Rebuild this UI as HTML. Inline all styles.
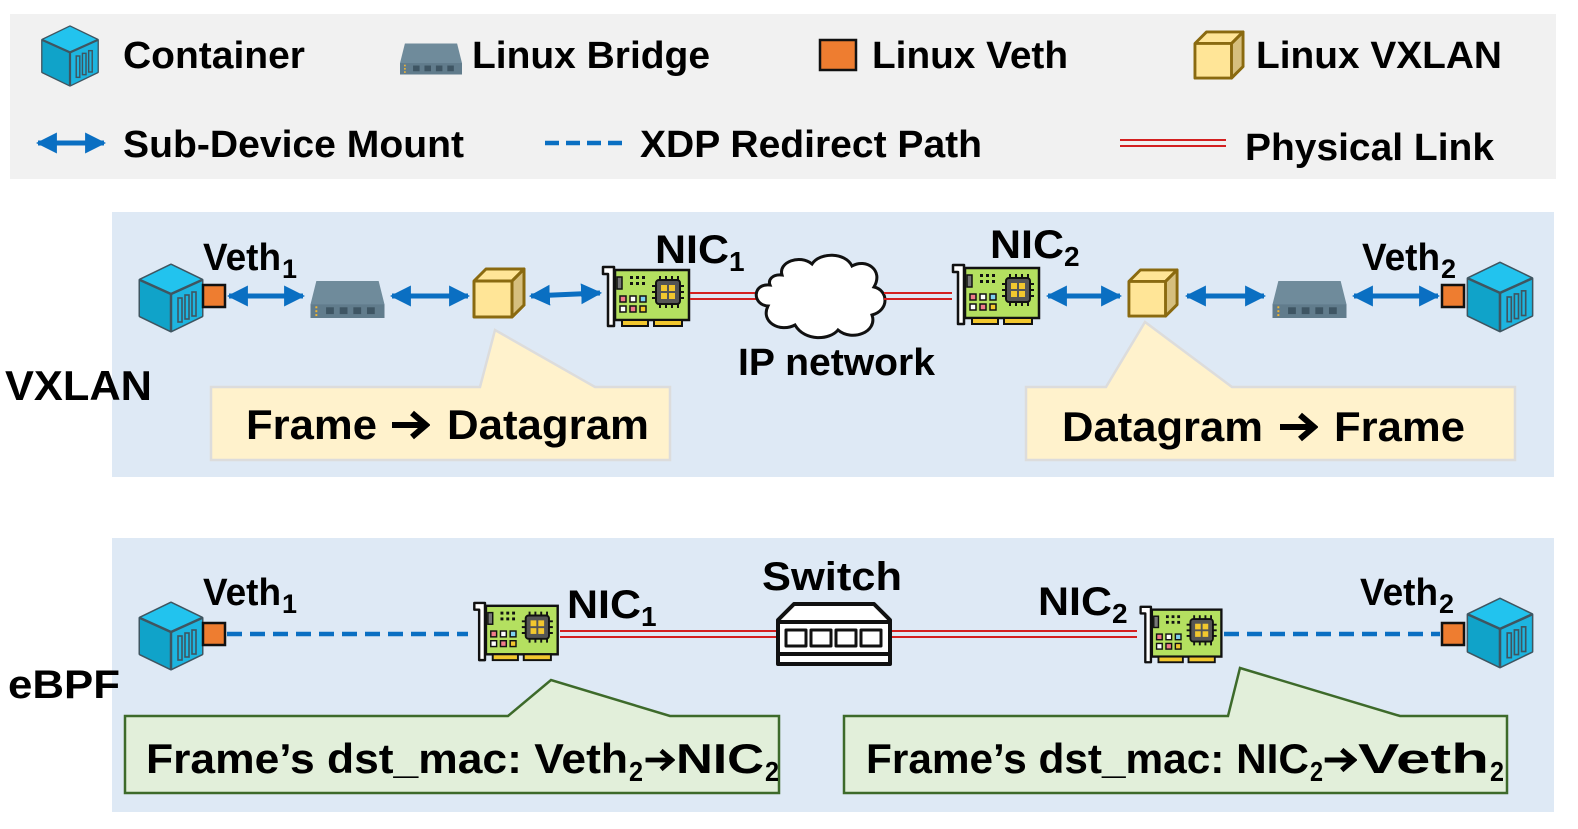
<!DOCTYPE html>
<html><head><meta charset="utf-8"><style>html,body{margin:0;padding:0;background:#fff}svg{display:block}</style></head><body>
<svg width="1578" height="829" viewBox="0 0 1578 829" xmlns="http://www.w3.org/2000/svg" font-family="'Liberation Sans', Arial, sans-serif" font-weight="bold">
<defs>
<symbol id="ctr" viewBox="0 0 70 72">
<polygon points="35,3 66,18 66,54 35,69 4,54 4,18" fill="#17a9d1" stroke="#3f5560" stroke-width="3" stroke-linejoin="round"/>
<polygon points="35,3 66,18 35,32 4,18" fill="#22c3ee"/>
<polygon points="35,32 66,18 66,54 35,69" fill="#1db5e0"/>
<polygon points="4,18 35,32 35,69 4,54" fill="#10a3c9"/>
<polyline points="4,18 35,32 66,18" fill="none" stroke="#3f5560" stroke-width="2.5"/>
<line x1="35" y1="32" x2="35" y2="69" stroke="#3f5560" stroke-width="2.5"/>
<g stroke="#3f5560" stroke-width="1.6" fill="none"><rect x="42" y="36" width="4" height="24"/><rect x="49" y="33" width="4" height="24"/><rect x="56" y="30" width="4" height="24"/></g>
</symbol>
<symbol id="brg" viewBox="0 0 76 38">
<polygon points="6,0 70,0 76,24 76,38 0,38 0,24" fill="#6f8b9b"/>
<rect x="0" y="24" width="76" height="14" fill="#617c8c"/>
<g fill="#3e5563"><rect x="16" y="27" width="8" height="7"/><rect x="30" y="27" width="8" height="7"/><rect x="44" y="27" width="8" height="7"/><rect x="58" y="27" width="8" height="7"/></g>
<g fill="#f2b632"><rect x="5" y="26" width="2" height="2"/><rect x="5" y="30" width="2" height="2"/><rect x="5" y="34" width="2" height="2"/></g>
</symbol>
<symbol id="cube" viewBox="0 0 54 52">
<polygon points="2,14 14,2 52,2 52,38 40,50 2,50" fill="#ffe597" stroke="#8a6a10" stroke-width="3" stroke-linejoin="round"/>
<polygon points="40,14 52,2 52,38 40,50" fill="#d6bf7e" stroke="#8a6a10" stroke-width="3" stroke-linejoin="round"/>
<polyline points="2,14 40,14 52,2" fill="none" stroke="#8a6a10" stroke-width="3"/>
</symbol>
<symbol id="nic" viewBox="0 0 92 66">
<path d="M3,3 H14 V62 H8 V10 H3 Z" fill="#fff" stroke="#111" stroke-width="2.5" stroke-linejoin="round"/>
<rect x="15" y="6" width="74" height="50" fill="#b4e060" stroke="#111" stroke-width="2.5"/>
<rect x="22" y="56" width="26" height="6" fill="#f2c72e" stroke="#111" stroke-width="2"/>
<rect x="54" y="56" width="28" height="6" fill="#f2c72e" stroke="#111" stroke-width="2"/>
<rect x="17" y="13" width="5" height="12" fill="#777" stroke="#111" stroke-width="1.5"/>
<rect x="56" y="16" width="24" height="24" rx="3" fill="#555" stroke="#111" stroke-width="2"/>
<g fill="#f2c72e"><rect x="61" y="21" width="6" height="6"/><rect x="69" y="21" width="6" height="6"/><rect x="61" y="29" width="6" height="6"/><rect x="69" y="29" width="6" height="6"/></g>
<g stroke="#111" stroke-width="2"><path d="M60,16v-4M66,16v-4M72,16v-4M78,16v-4M60,40v4M66,40v4M72,40v4M78,40v4M56,22h-4M56,28h-4M56,34h-4M80,22h4M80,28h4M80,34h4"/></g>
<g fill="#111"><rect x="30" y="12" width="3" height="3"/><rect x="36" y="12" width="3" height="3"/><rect x="42" y="12" width="3" height="3"/><rect x="30" y="18" width="3" height="3"/><rect x="36" y="18" width="3" height="3"/><rect x="42" y="18" width="3" height="3"/></g>
<g stroke="#111" stroke-width="1.5"><rect x="20" y="32" width="6" height="6" fill="#f07c8a"/><rect x="30" y="32" width="6" height="6" fill="#fff"/><rect x="40" y="32" width="6" height="6" fill="#7fd1f0"/><rect x="20" y="42" width="6" height="6" fill="#fff"/><rect x="30" y="42" width="6" height="6" fill="#f07c8a"/><rect x="40" y="42" width="6" height="6" fill="#f2c72e"/></g>
</symbol>
<symbol id="arr" viewBox="0 0 40 30"><path d="M2,15 H34 M22,3 L36,15 L22,27" fill="none" stroke="#000" stroke-width="6" stroke-linejoin="miter"/></symbol>
<marker id="ah" viewBox="0 0 10 10" refX="9" refY="5" markerWidth="4.2" markerHeight="4.2" orient="auto-start-reverse"><path d="M0,0 L10,5 L0,10 Z" fill="#0a6fc2"/></marker>
</defs>

<!-- legend -->
<rect x="10" y="14" width="1546" height="165" fill="#f1f1f1"/>
<use href="#ctr" x="38" y="24" width="64" height="64"/>
<text x="123" y="68" font-size="38" textLength="182" lengthAdjust="spacingAndGlyphs">Container</text>
<use href="#brg" x="400" y="40" width="62" height="38"/>
<text x="472" y="68" font-size="38" textLength="238" lengthAdjust="spacingAndGlyphs">Linux Bridge</text>
<rect x="820" y="40" width="36" height="30" fill="#ee7d30" stroke="#111" stroke-width="2.5"/>
<text x="872" y="68" font-size="38" textLength="196" lengthAdjust="spacingAndGlyphs">Linux Veth</text>
<use href="#cube" x="1193" y="30" width="52" height="50"/>
<text x="1256" y="68" font-size="38" textLength="246" lengthAdjust="spacingAndGlyphs">Linux VXLAN</text>
<line x1="38" y1="143" x2="104" y2="143" stroke="#0a6fc2" stroke-width="5" marker-start="url(#ah)" marker-end="url(#ah)"/>
<text x="123" y="157" font-size="38" textLength="341" lengthAdjust="spacingAndGlyphs">Sub-Device Mount</text>
<line x1="545" y1="143" x2="628" y2="143" stroke="#0a6fc2" stroke-width="4.5" stroke-dasharray="14,7"/>
<text x="640" y="157" font-size="38" textLength="342" lengthAdjust="spacingAndGlyphs">XDP Redirect Path</text>
<line x1="1120" y1="140" x2="1226" y2="140" stroke="#d42020" stroke-width="2"/>
<line x1="1120" y1="146" x2="1226" y2="146" stroke="#d42020" stroke-width="2"/>
<text x="1245" y="160" font-size="38" textLength="249" lengthAdjust="spacingAndGlyphs">Physical Link</text>

<!-- VXLAN panel -->
<rect x="112" y="212" width="1442" height="265" fill="#dee9f5"/>
<text x="5" y="400" font-size="42" textLength="147" lengthAdjust="spacingAndGlyphs">VXLAN</text>
<polygon points="211,387 480,387 495,330 595,387 670,387 670,460 211,460" fill="#fff2cc" stroke="#dcdcdc" stroke-width="2.5"/>
<text x="246" y="439" font-size="42" textLength="131" lengthAdjust="spacingAndGlyphs">Frame</text>
<use href="#arr" x="390" y="410" width="40" height="30"/>
<text x="447" y="439" font-size="42" textLength="202" lengthAdjust="spacingAndGlyphs">Datagram</text>
<polygon points="1026,387 1106,387 1145,322 1232,387 1515,387 1515,460 1026,460" fill="#fff2cc" stroke="#dcdcdc" stroke-width="2.5"/>
<text x="1062" y="441" font-size="42" textLength="201" lengthAdjust="spacingAndGlyphs">Datagram</text>
<use href="#arr" x="1278" y="412" width="40" height="30"/>
<text x="1334" y="441" font-size="42" textLength="131" lengthAdjust="spacingAndGlyphs">Frame</text>

<use href="#ctr" x="136" y="262" width="70" height="72"/>
<rect x="203" y="285" width="22" height="22" fill="#ee7d30" stroke="#111" stroke-width="2.5"/>
<line x1="229" y1="296" x2="303" y2="296" stroke="#0a6fc2" stroke-width="5" marker-start="url(#ah)" marker-end="url(#ah)"/>
<use href="#brg" x="310" y="281" width="75" height="37"/>
<line x1="392" y1="296" x2="468" y2="296" stroke="#0a6fc2" stroke-width="5" marker-start="url(#ah)" marker-end="url(#ah)"/>
<use href="#cube" x="472" y="267" width="54" height="52"/>
<line x1="531" y1="296" x2="600" y2="293" stroke="#0a6fc2" stroke-width="5" marker-start="url(#ah)" marker-end="url(#ah)"/>
<use href="#nic" x="600" y="264" width="92" height="66"/>
<line x1="690" y1="293" x2="758" y2="293" stroke="#d42020" stroke-width="2"/>
<line x1="690" y1="299" x2="758" y2="299" stroke="#d42020" stroke-width="2"/>
<path d="M770,285 C752,283 752,305 768,306 C760,322 780,333 795,325 C805,342 830,340 838,330 C852,342 878,332 872,315 C890,310 888,290 874,287 C884,270 866,258 852,266 C845,252 820,252 812,264 C800,254 778,262 782,275 C772,274 768,280 770,285 Z" fill="#fff" stroke="#111" stroke-width="3"/>
<line x1="884" y1="293" x2="952" y2="293" stroke="#d42020" stroke-width="2"/>
<line x1="884" y1="299" x2="952" y2="299" stroke="#d42020" stroke-width="2"/>
<use href="#nic" x="950" y="262" width="92" height="66"/>
<line x1="1048" y1="296" x2="1120" y2="296" stroke="#0a6fc2" stroke-width="5" marker-start="url(#ah)" marker-end="url(#ah)"/>
<use href="#cube" x="1127" y="267" width="52" height="52"/>
<line x1="1187" y1="296" x2="1264" y2="296" stroke="#0a6fc2" stroke-width="5" marker-start="url(#ah)" marker-end="url(#ah)"/>
<use href="#brg" x="1272" y="281" width="75" height="37"/>
<line x1="1354" y1="296" x2="1438" y2="296" stroke="#0a6fc2" stroke-width="5" marker-start="url(#ah)" marker-end="url(#ah)"/>
<rect x="1442" y="285" width="22" height="22" fill="#ee7d30" stroke="#111" stroke-width="2.5"/>
<use href="#ctr" x="1464" y="260" width="72" height="74"/>

<text x="203" y="270" font-size="38" textLength="78" lengthAdjust="spacingAndGlyphs">Veth</text><text x="282" y="278" font-size="27">1</text>
<text x="655" y="263" font-size="40" textLength="74" lengthAdjust="spacingAndGlyphs">NIC</text><text x="729" y="271" font-size="28">1</text>
<text x="738" y="375" font-size="38" textLength="197" lengthAdjust="spacingAndGlyphs">IP network</text>
<text x="990" y="258" font-size="40" textLength="74" lengthAdjust="spacingAndGlyphs">NIC</text><text x="1064" y="266" font-size="28">2</text>
<text x="1362" y="270" font-size="38" textLength="78" lengthAdjust="spacingAndGlyphs">Veth</text><text x="1441" y="278" font-size="27">2</text>

<!-- eBPF panel -->
<rect x="112" y="538" width="1442" height="274" fill="#dee9f5"/>
<text x="8" y="698" font-size="40" textLength="112" lengthAdjust="spacingAndGlyphs">eBPF</text>
<polygon points="125,716 508,716 551,680 670,716 779,716 779,793 125,793" fill="#e2efda" stroke="#3d6a2a" stroke-width="2.5"/>
<text x="146" y="773" font-size="42" textLength="482" lengthAdjust="spacingAndGlyphs">Frame’s dst_mac: Veth</text>
<text x="629" y="781" font-size="28" textLength="14" lengthAdjust="spacingAndGlyphs">2</text>
<use href="#arr" x="644" y="745" width="31" height="30"/>
<text x="676" y="773" font-size="42" textLength="88" lengthAdjust="spacingAndGlyphs">NIC</text>
<text x="765" y="781" font-size="28" textLength="14" lengthAdjust="spacingAndGlyphs">2</text>
<polygon points="844,716 1228,716 1240,668 1400,716 1507,716 1507,793 844,793" fill="#e2efda" stroke="#3d6a2a" stroke-width="2.5"/>
<text x="866" y="773" font-size="42" textLength="443" lengthAdjust="spacingAndGlyphs">Frame’s dst_mac: NIC</text>
<text x="1310" y="781" font-size="28" textLength="13" lengthAdjust="spacingAndGlyphs">2</text>
<use href="#arr" x="1323" y="745" width="34" height="30"/>
<text x="1358" y="773" font-size="42" textLength="131" lengthAdjust="spacingAndGlyphs">Veth</text>
<text x="1490" y="781" font-size="28" textLength="14" lengthAdjust="spacingAndGlyphs">2</text>

<use href="#ctr" x="136" y="600" width="70" height="72"/>
<rect x="203" y="623" width="22" height="22" fill="#ee7d30" stroke="#111" stroke-width="2.5"/>
<line x1="227" y1="634" x2="468" y2="634" stroke="#0a6fc2" stroke-width="4.5" stroke-dasharray="15,8"/>
<use href="#nic" x="470" y="600" width="92" height="64"/>
<line x1="560" y1="631" x2="776" y2="631" stroke="#d42020" stroke-width="2"/>
<line x1="560" y1="637" x2="776" y2="637" stroke="#d42020" stroke-width="2"/>
<g transform="translate(776,604)" stroke="#111" stroke-width="4" fill="#fff" stroke-linejoin="round">
<polygon points="18,0 98,0 114,16 114,60 2,60 2,16"/>
<line x1="2" y1="18" x2="114" y2="18"/>
<line x1="2" y1="50" x2="114" y2="50"/>
<g stroke-width="3"><rect x="10" y="26" width="20" height="16"/><rect x="35" y="26" width="20" height="16"/><rect x="60" y="26" width="20" height="16"/><rect x="85" y="26" width="20" height="16"/></g>
</g>
<line x1="892" y1="631" x2="1137" y2="631" stroke="#d42020" stroke-width="2"/>
<line x1="892" y1="637" x2="1137" y2="637" stroke="#d42020" stroke-width="2"/>
<use href="#nic" x="1135" y="604" width="92" height="62"/>
<line x1="1224" y1="634" x2="1440" y2="634" stroke="#0a6fc2" stroke-width="4.5" stroke-dasharray="15,8"/>
<rect x="1442" y="623" width="22" height="22" fill="#ee7d30" stroke="#111" stroke-width="2.5"/>
<use href="#ctr" x="1464" y="596" width="72" height="74"/>

<text x="203" y="605" font-size="38" textLength="78" lengthAdjust="spacingAndGlyphs">Veth</text><text x="282" y="613" font-size="27">1</text>
<text x="567" y="618" font-size="40" textLength="74" lengthAdjust="spacingAndGlyphs">NIC</text><text x="641" y="626" font-size="28">1</text>
<text x="762" y="590" font-size="40" textLength="140" lengthAdjust="spacingAndGlyphs">Switch</text>
<text x="1038" y="615" font-size="40" textLength="74" lengthAdjust="spacingAndGlyphs">NIC</text><text x="1112" y="623" font-size="28">2</text>
<text x="1360" y="605" font-size="38" textLength="78" lengthAdjust="spacingAndGlyphs">Veth</text><text x="1439" y="613" font-size="27">2</text>
</svg>
</body></html>
